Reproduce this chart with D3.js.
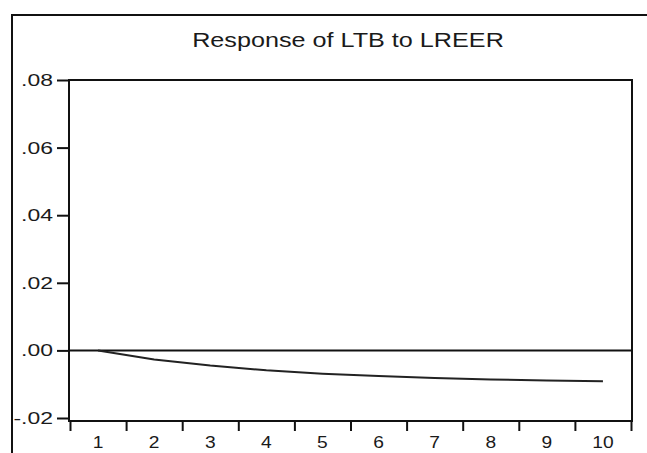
<!DOCTYPE html>
<html>
<head>
<meta charset="utf-8">
<script src="https://cdn.jsdelivr.net/npm/d3@7/dist/d3.min.js"></script>
<style>
  html, body { margin: 0; padding: 0; background: #fff; overflow: hidden; }
  text { font-family: "Liberation Sans", Arial, sans-serif; fill: #1a1a1a; }
</style>
</head>
<body>
<div id="chart"></div>
<script>
// Data
var periods = [1, 2, 3, 4, 5, 6, 7, 8, 9, 10];
var response = [0, -0.0027, -0.0045, -0.0059, -0.0069, -0.0076, -0.0082, -0.0086, -0.0089, -0.0091];
var yTicks = [-0.02, 0, 0.02, 0.04, 0.06, 0.08];
var yTickLabels = ["-.02", ".00", ".02", ".04", ".06", ".08"];
var title = "Response of LTB to LREER";

var width = 647, height = 453;
var plot = {left: 69, right: 632, top: 80, bottom: 421};

var svg = d3.select("#chart")
    .append("svg")
    .attr("width", width)
    .attr("height", height);

// outer frame (clipped at right and bottom)
svg.append("path")
    .attr("d", "M12," + height + "V15H" + width)
    .attr("fill", "none")
    .attr("stroke", "#111")
    .attr("stroke-width", 2);

// scales
var x = d3.scaleLinear()
    .domain([0.5, 10.5])
    .range([plot.left + 1, plot.right - 1]);

var y = d3.scaleLinear()
    .domain([-0.02, 0.08])
    .range([418, plot.top]);

// title, stretched horizontally like the source
svg.append("text")
    .attr("transform", "translate(348,47) scale(1.26,1)")
    .attr("text-anchor", "middle")
    .style("font-size", "20px")
    .text(title);

// plot frame
svg.append("rect")
    .attr("x", plot.left)
    .attr("y", plot.top)
    .attr("width", plot.right - plot.left)
    .attr("height", plot.bottom - plot.top)
    .attr("fill", "none")
    .attr("stroke", "#111")
    .attr("stroke-width", 2);

// left axis ticks
var yAxis = svg.append("g")
    .attr("transform", "translate(" + plot.left + ",0)")
    .call(d3.axisLeft(y).tickValues(yTicks).tickSize(12).tickFormat(""));
yAxis.select(".domain").remove();
yAxis.selectAll("line").attr("stroke", "#111").attr("stroke-width", 2);

svg.selectAll(".ylab")
    .data(yTicks)
    .enter()
    .append("text")
    .attr("class", "ylab")
    .attr("transform", function (d) { return "translate(53," + (y(d) + 6) + ") scale(1.35,1)"; })
    .attr("text-anchor", "end")
    .style("font-size", "17px")
    .text(function (d, i) { return yTickLabels[i]; });

// bottom axis ticks at period boundaries
var bounds = periods.map(function (p) { return p - 0.5; }).concat([10.5]);
var xAxis = svg.append("g")
    .attr("transform", "translate(0," + plot.bottom + ")")
    .call(d3.axisBottom(x).tickValues(bounds).tickSize(10).tickFormat(""));
xAxis.select(".domain").remove();
xAxis.selectAll("line").attr("stroke", "#111").attr("stroke-width", 2);

// period labels, kept just inside the bottom edge
svg.selectAll(".xlab")
    .data(periods)
    .enter()
    .append("text")
    .attr("class", "xlab")
    .attr("transform", function (d) { return "translate(" + x(d) + ",448) scale(1.2,1)"; })
    .attr("text-anchor", "middle")
    .style("font-size", "16px")
    .text(function (d) { return d; });

// zero line
svg.append("line")
    .attr("x1", plot.left)
    .attr("x2", plot.right)
    .attr("y1", y(0))
    .attr("y2", y(0))
    .attr("stroke", "#111")
    .attr("stroke-width", 2);

// response line
var line = d3.line()
    .x(function (d, i) { return x(periods[i]); })
    .y(function (d) { return y(d); });

svg.append("path")
    .datum(response)
    .attr("d", line)
    .attr("fill", "none")
    .attr("stroke", "#222")
    .attr("stroke-width", 2);
</script>
</body>
</html>
